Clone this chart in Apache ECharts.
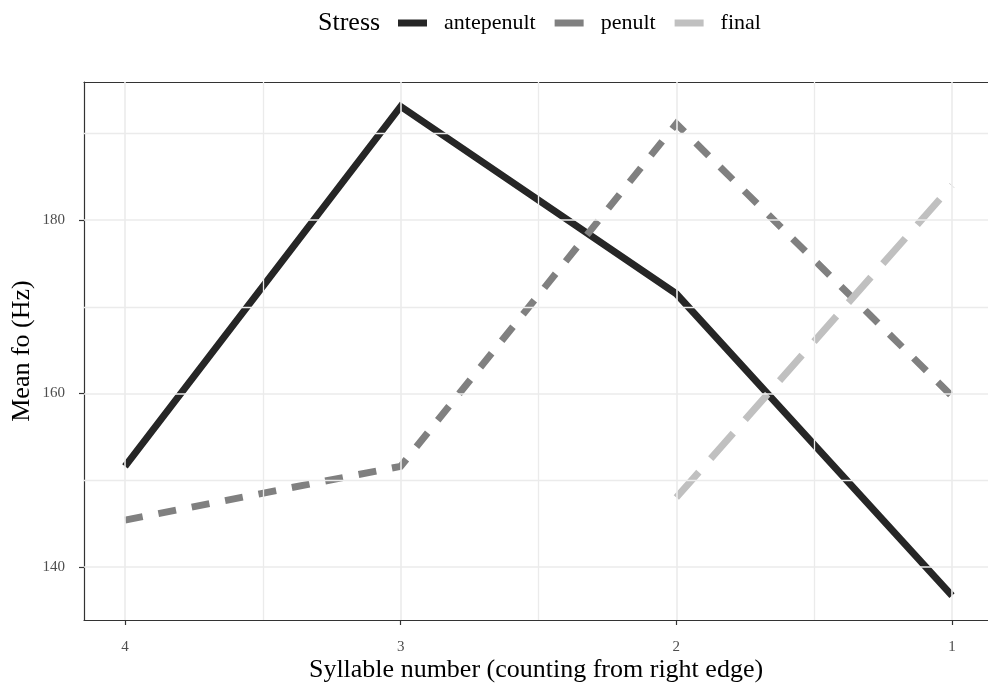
<!DOCTYPE html>
<html><head><meta charset="utf-8">
<script src="https://cdn.jsdelivr.net/npm/echarts@6/dist/echarts.min.js"></script>
<style>html,body{margin:0;padding:0;background:#fff}#c{width:988px;height:686px}</style>
</head><body><div id="c"></div>
<script>
const syllables = [4, 3, 2, 1];
const antepenult = [151.6, 193.1, 171.5, 136.7];
const penult = [145.4, 151.6, 191.1, 159.7];
const finalStress = [null, null, 148.0, 184.0];
const xTicks = [1, 2, 3, 4];
const xMinor = [1.5, 2.5, 3.5];
const yTicks = [140, 160, 180];
const yMinor = [150, 170, 190];
const legendTitle = 'Stress';
const seriesNames = ['antepenult', 'penult', 'final'];

const FONT = 'Liberation Serif';
const pairs = arr => syllables.map((s, i) => [s, arr[i]]).filter(p => p[1] !== null);
const gridLine = { color: '#ebebeb', width: 1.6, type: 'solid' };
const minorLine = { color: '#ebebeb', width: 1.3, type: 'solid' };
const XMIN = 0.8694, XMAX = 4.1487;

const chart = echarts.init(document.getElementById('c'), null, { renderer: 'canvas' });
chart.setOption({
  animation: false,
  backgroundColor: '#fff',
  textStyle: { fontFamily: FONT },
  grid: { left: 84, top: 82, right: 0, bottom: 66, containLabel: false, outerBoundsMode: 'none' },
  graphic: [{ type: 'text', left: 318, top: 10, style: { text: legendTitle, font: '26px "Liberation Serif"', fill: '#000' } }],
  legend: {
    left: 398, top: 12, padding: 0, itemWidth: 29, itemHeight: 7, itemGap: 19,
    icon: 'rect',
    data: seriesNames,
    textStyle: { fontFamily: FONT, fontSize: 22, color: '#000', padding: [0, 0, 0, 12] }
  },
  xAxis: [{
    type: 'value', inverse: true, min: XMIN, max: XMAX,
    name: 'Syllable number (counting from right edge)', nameLocation: 'middle', nameGap: 37, nameMoveOverlap: false,
    nameTextStyle: { fontFamily: FONT, fontSize: 26, color: '#000' },
    axisLine: { show: true, lineStyle: { color: '#333', width: 1.2 } },
    axisTick: { show: true, customValues: xTicks, length: 5, lineStyle: { color: '#333', width: 1.2 } },
    axisLabel: { customValues: xTicks, formatter: v => String(v), fontFamily: FONT, fontSize: 15, color: '#4d4d4d', margin: 20 },
    splitLine: { show: false }
  }, {
    type: 'value', inverse: true, min: XMIN, max: XMAX, position: 'top',
    axisLine: { show: true, lineStyle: { color: '#333', width: 1.2 } },
    axisTick: { show: false }, axisLabel: { show: false }, splitLine: { show: false }
  }],
  yAxis: {
    type: 'value', min: 133.88, max: 195.92,
    name: 'Mean fo (Hz)', nameLocation: 'middle', nameGap: 49, nameMoveOverlap: false,
    nameTextStyle: { fontFamily: FONT, fontSize: 26, color: '#000' },
    axisLine: { show: true, lineStyle: { color: '#333', width: 1.2 } },
    axisTick: { show: true, customValues: yTicks, length: 5, lineStyle: { color: '#333', width: 1.2 } },
    axisLabel: { customValues: yTicks, formatter: v => String(v), fontFamily: FONT, fontSize: 15, color: '#4d4d4d', margin: 19 },
    splitLine: { show: false }
  },
  series: [
    {
      type: 'line', data: [], silent: true, z: 1,
      markLine: {
        silent: true, symbol: 'none', label: { show: false }, animation: false,
        data: [
          ...xTicks.map(v => ({ xAxis: v, lineStyle: gridLine })),
          ...xMinor.map(v => ({ xAxis: v, lineStyle: minorLine })),
          ...yTicks.map(v => ({ yAxis: v, lineStyle: gridLine })),
          ...yMinor.map(v => ({ yAxis: v, lineStyle: minorLine }))
        ]
      }
    },
    {
      name: seriesNames[0], type: 'line', data: pairs(antepenult), symbol: 'none', z: 3,
      lineStyle: { color: '#262626', width: 7, cap: 'butt', join: 'miter' }, itemStyle: { color: '#262626' }
    },
    {
      name: seriesNames[1], type: 'line', data: pairs(penult), symbol: 'none', z: 3,
      lineStyle: { color: '#808080', width: 7, type: [18, 16], cap: 'butt', join: 'miter' }, itemStyle: { color: '#808080' }
    },
    {
      name: seriesNames[2], type: 'line', data: pairs(finalStress), symbol: 'none', z: 3,
      lineStyle: { color: '#c0c0c0', width: 7, type: [34, 18], cap: 'butt' }, itemStyle: { color: '#c0c0c0' }
    }
  ]
});
</script></body></html>
